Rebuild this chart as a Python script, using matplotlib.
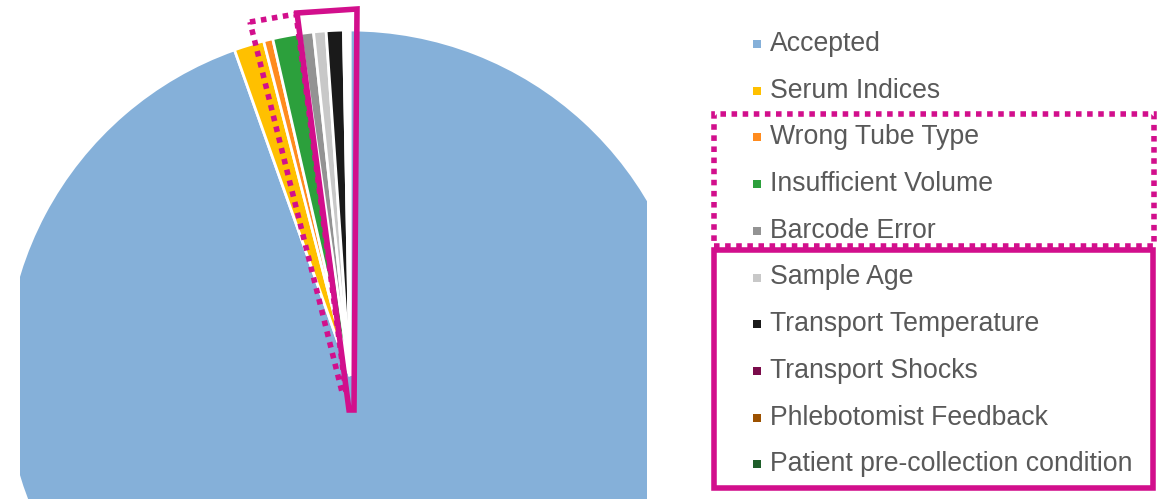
import matplotlib.pyplot as plt
from matplotlib.patches import Polygon, Rectangle

W, H = 1165, 499

labels = [
    "Accepted",
    "Serum Indices",
    "Wrong Tube Type",
    "Insufficient Volume",
    "Barcode Error",
    "Sample Age",
    "Transport Temperature",
    "Transport Shocks",
    "Phlebotomist Feedback",
    "Patient pre-collection condition",
]
shares = [94.45, 1.40, 0.43, 1.30, 0.60, 0.58, 0.80, 0.10, 0.10, 0.10]
colors = [
    "#85B0D9", "#FFC000", "#FF8B1E", "#2CA03C", "#939393",
    "#C8C8C8", "#1A1A1A", "#7A0B4A", "#9C5100", "#1E5E2A",
]

MAGENTA = "#D20F8C"
TEXT = "#595959"


def fx(x):
    return x / W


def fy(y):
    return 1 - y / H


fig = plt.figure(figsize=(W / 100, H / 100), dpi=100)

# pie is zoomed in and clipped: centre at (350, 376) px, radius 346 px
cx, cy, r = 350, 376, 346
left, right = 20, 647
ax = fig.add_axes([fx(left), 0, (right - left) / W, 1])
ax.pie(shares, colors=colors, startangle=90, counterclock=False,
       wedgeprops=dict(edgecolor="white", linewidth=2, clip_on=True))
ax.set_aspect("auto")
ax.set_xlim((left - cx) / r, (right - cx) / r)
ax.set_ylim(-(H - cy) / r, cy / r)
ax.axis("off")

# highlight frames around the small slices
dotted = Polygon([(fx(250), fy(22)), (fx(296), fy(14)), (fx(346), fy(392)),
                  (fx(342), fy(392))], closed=True, fill=False,
                 edgecolor=MAGENTA, linewidth=4, linestyle=(0, (1, 1)),
                 transform=fig.transFigure)
solid = Polygon([(fx(297), fy(13)), (fx(357), fy(9)), (fx(354), fy(410)),
                 (fx(349), fy(410))], closed=True, fill=False,
                edgecolor=MAGENTA, linewidth=4, joinstyle="miter",
                transform=fig.transFigure)
fig.patches.extend([dotted, solid])

# legend, drawn by hand
y0, step = 43, 46.7
for i, (lab, col) in enumerate(zip(labels, colors)):
    y = y0 + i * step
    fig.patches.append(Rectangle((fx(753), fy(y + 5)), 8 / W, 8 / H,
                                 facecolor=col, edgecolor="none",
                                 transform=fig.transFigure))
    fig.text(fx(770), fy(y + 1), lab, fontsize=19.2, color=TEXT,
             family="Liberation Sans", va="center", ha="left")

fig.patches.append(Rectangle((fx(714), fy(246)), 440 / W, 132 / H,
                             fill=False, edgecolor=MAGENTA, linewidth=4,
                             linestyle=(0, (1, 1)),
                             transform=fig.transFigure))
fig.patches.append(Rectangle((fx(714), fy(488)), 439 / W, 238 / H,
                             fill=False, edgecolor=MAGENTA, linewidth=4,
                             transform=fig.transFigure))

fig.savefig("out.png", dpi=100)
